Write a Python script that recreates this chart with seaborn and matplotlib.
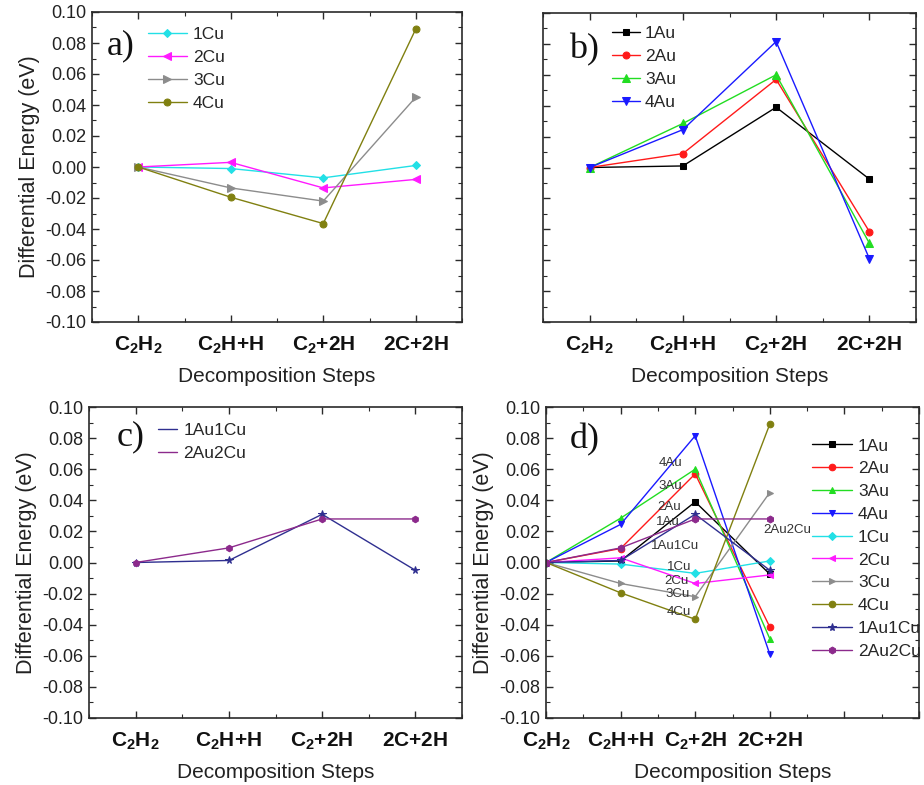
import matplotlib
matplotlib.use("Agg")
import matplotlib.pyplot as plt
from matplotlib.ticker import MultipleLocator, FixedLocator
from matplotlib.lines import Line2D
import seaborn as sns
import pandas as pd

# Decomposition steps and step labels
steps = [0, 1, 2, 3]
step_labels = [r"$\mathbf{C_2H_2}$", r"$\mathbf{C_2H{+}H}$",
               r"$\mathbf{C_2{+}2H}$", r"$\mathbf{2C{+}2H}$"]

# Differential energies (eV) per cluster
cu1 = [0.0, -0.001, -0.007, 0.001]
cu2 = [0.0, 0.003, -0.0135, -0.008]
cu3 = [0.0, -0.0135, -0.022, 0.045]
cu4 = [0.0, -0.0195, -0.0365, 0.089]
au1 = [0.0, 0.001, 0.039, -0.0075]
au2 = [0.0, 0.009, 0.057, -0.0415]
au3 = [0.0, 0.0285, 0.060, -0.049]
au4 = [0.0, 0.0245, 0.0815, -0.059]
au1cu1 = [0.0, 0.0013, 0.031, -0.005]
au2cu2 = [0.0, 0.0094, 0.028, 0.028]

series = {
    "1Au": au1, "2Au": au2, "3Au": au3, "4Au": au4,
    "1Cu": cu1, "2Cu": cu2, "3Cu": cu3, "4Cu": cu4,
    "1Au1Cu": au1cu1, "2Au2Cu": au2cu2,
}
styles = {
    "1Au": ("#000000", "s"), "2Au": ("#ff1a1a", "o"),
    "3Au": ("#22dd22", "^"), "4Au": ("#1a1aff", "v"),
    "1Cu": ("#22e0e6", "D"), "2Cu": ("#ff1aff", "<"),
    "3Cu": ("#8c8c8c", ">"), "4Cu": ("#808010", "o"),
    "1Au1Cu": ("#2f2f90", "*"), "2Au2Cu": ("#8c2a8c", "h"),
}
marker_sizes = {"s": 4.2, "o": 5.0, "^": 5.2, "v": 5.2, "D": 4.4,
                "<": 5.2, ">": 5.2, "*": 6.0, "h": 5.2}

df = pd.DataFrame(
    [(name, s, v) for name, vals in series.items() for s, v in zip(steps, vals)],
    columns=["cluster", "step", "energy"],
)

sns.set_theme(style="ticks")
plt.rcParams["font.family"] = ["Liberation Sans", "DejaVu Sans"]
plt.rcParams["mathtext.fontset"] = "custom"
plt.rcParams["mathtext.rm"] = "Liberation Sans"
plt.rcParams["mathtext.bf"] = "Liberation Sans:bold"
plt.rcParams["axes.edgecolor"] = "#2a2a2a"
plt.rcParams["axes.linewidth"] = 1.2

W, H = 924, 785
fig = plt.figure(figsize=(W / 100, H / 100), dpi=100)


def box(l, t, r, b):
    return [l / W, 1 - b / H, (r - l) / W, (b - t) / H]


ax_a = fig.add_axes(box(92, 12, 462, 322))
ax_b = fig.add_axes(box(543, 13, 916, 322))
ax_c = fig.add_axes(box(89, 407, 462, 718))
ax_d = fig.add_axes(box(546, 407, 919, 718))


def draw(ax, names, scale=1.0):
    for name in names:
        color, marker = styles[name]
        sub = df[df["cluster"] == name]
        sns.lineplot(data=sub, x="step", y="energy", ax=ax, color=color,
                     marker=marker, markersize=marker_sizes[marker] * scale,
                     markeredgecolor=color, linewidth=1.0, label=name,
                     legend=False)


def style_axes(ax, xmax, ylabels=True, xmin=-0.5):
    ax.set_xlim(xmin, xmax)
    ax.set_ylim(-0.10, 0.10)
    ax.xaxis.set_major_locator(FixedLocator([i for i in range(int(xmin + 0.5), int(xmax) + 1)]))
    ax.xaxis.set_minor_locator(MultipleLocator(0.5))
    ax.yaxis.set_major_locator(MultipleLocator(0.02))
    ax.yaxis.set_minor_locator(MultipleLocator(0.01))
    ax.tick_params(which="both", direction="in", top=True, right=True,
                   color="#2a2a2a")
    ax.tick_params(which="major", length=5, width=1)
    ax.tick_params(which="minor", length=3, width=0.8)
    ax.tick_params(axis="y", labelsize=13, pad=4, labelcolor="#222222")
    ax.tick_params(axis="x", labelsize=15, pad=9, labelcolor="#111111")
    if ylabels:
        ax.set_yticks([-0.10, -0.08, -0.06, -0.04, -0.02, 0.0, 0.02, 0.04, 0.06, 0.08, 0.10])
        ax.set_yticklabels([f"{v:.2f}" for v in ax.get_yticks()])
        ax.set_ylabel("Differential Energy (eV)", fontsize=15.5, labelpad=4,
                      color="#222222")
    else:
        ax.tick_params(axis="y", labelleft=False)
        ax.set_ylabel("")
    ax.set_xlabel("Decomposition Steps", fontsize=15, labelpad=8, color="#222222")
    for sp in ax.spines.values():
        sp.set_visible(True)


def panel_tag(ax, text, x, y):
    ax.text(x, y, text, transform=ax.transAxes, ha="left", va="center",
            fontsize=26, family="Liberation Serif", color="#111111")


# a) copper clusters
draw(ax_a, ["1Cu", "2Cu", "3Cu", "4Cu"])
style_axes(ax_a, 3.5)
ax_a.set_xticks(steps)
ax_a.set_xticklabels(step_labels)
ax_a.legend(loc="upper left", bbox_to_anchor=(0.151, 0.951), frameon=False,
            fontsize=12.5, handlelength=2.25, handletextpad=0.35,
            labelspacing=0.45, borderaxespad=0.0, borderpad=0.0)
panel_tag(ax_a, "a)", 0.04, 0.89)

# b) gold clusters
draw(ax_b, ["1Au", "2Au", "3Au", "4Au"])
style_axes(ax_b, 3.5, ylabels=False)
ax_b.set_xticks(steps)
ax_b.set_xticklabels(step_labels)
ax_b.legend(loc="upper left", bbox_to_anchor=(0.185, 0.957), frameon=False,
            fontsize=12.5, handlelength=1.6, handletextpad=0.3,
            labelspacing=0.45, borderaxespad=0.0, borderpad=0.0)
panel_tag(ax_b, "b)", 0.07, 0.88)

# c) mixed gold-copper clusters
draw(ax_c, ["1Au1Cu", "2Au2Cu"], scale=0.9)
style_axes(ax_c, 3.5)
ax_c.set_xticks(steps)
ax_c.set_xticklabels(step_labels)
c_handles = [Line2D([], [], color=styles[n][0], lw=1.0) for n in ["1Au1Cu", "2Au2Cu"]]
ax_c.legend(c_handles, ["1Au1Cu", "2Au2Cu"], loc="upper left",
            bbox_to_anchor=(0.185, 0.949), frameon=False, fontsize=12.5,
            handlelength=1.1, handletextpad=0.35, labelspacing=0.45,
            borderaxespad=0.0, borderpad=0.0)
panel_tag(ax_c, "c)", 0.075, 0.905)

# d) all clusters together
order = ["1Au", "2Au", "3Au", "4Au", "1Cu", "2Cu", "3Cu", "4Cu", "1Au1Cu", "2Au2Cu"]
draw(ax_d, order, scale=0.95)
style_axes(ax_d, 5.0, xmin=0.0)
ax_d.set_xticks([0, 1, 2, 3, 4, 5])
ax_d.set_xticklabels(step_labels + ["", ""])
ax_d.legend(loc="upper left", bbox_to_anchor=(0.713, 0.899), frameon=False,
            fontsize=12.5, handlelength=2.3, handletextpad=0.35,
            labelspacing=0.44, borderaxespad=0.0, borderpad=0.0)
panel_tag(ax_d, "d)", 0.064, 0.894)

# Series names written beside the curves
tags = [("4Au", 1.67, 0.064), ("3Au", 1.67, 0.049), ("2Au", 1.65, 0.036),
        ("1Au", 1.63, 0.026), ("1Au1Cu", 1.73, 0.0105), ("1Cu", 1.78, -0.003),
        ("2Cu", 1.75, -0.012), ("3Cu", 1.77, -0.020), ("4Cu", 1.78, -0.032),
        ("2Au2Cu", 3.23, 0.021)]
for text, x, y in tags:
    ax_d.text(x, y, text, fontsize=9.5, ha="center", va="center", color="#333333")

fig.savefig("out.png", dpi=100)
